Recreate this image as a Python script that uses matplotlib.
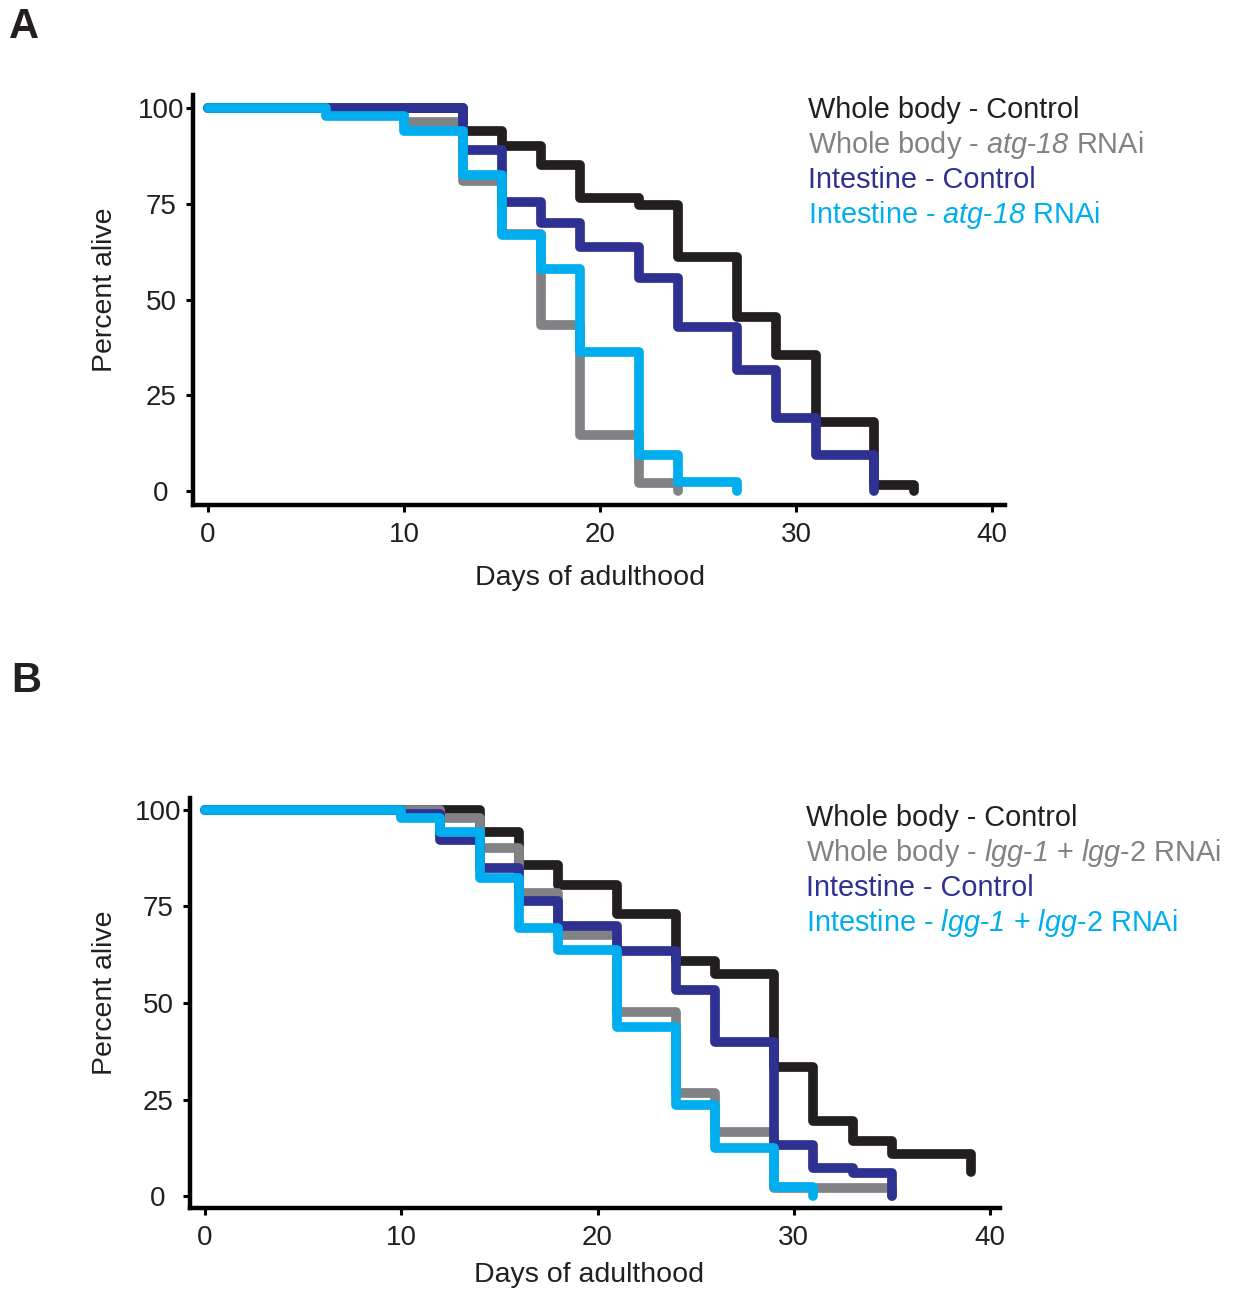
import matplotlib
matplotlib.use('Agg')
import matplotlib.pyplot as plt  # plotting

plt.rcParams['font.family'] = ['Liberation Sans', 'DejaVu Sans']
# math mode is only used for the italic gene names, so its "rm" font is the
# italic face (the "it" font would keep the digits upright)
plt.rcParams['mathtext.fontset'] = 'custom'
plt.rcParams['mathtext.rm'] = 'Liberation Sans:italic'
plt.rcParams['mathtext.it'] = 'Liberation Sans:italic'
plt.rcParams['mathtext.bf'] = 'Liberation Sans:bold'

########################################################
# Data
########################################################

# Panel A
a_wb_ctrl_days = [0, 13, 15, 17, 19, 22, 24, 27, 29, 31, 34, 36]
a_wb_ctrl_surv = [100, 94, 90, 85, 76.5, 74.7, 61, 45.4, 35.5, 18, 1.5, 0]
a_wb_rnai_days = [0, 10, 13, 15, 17, 19, 22, 24]
a_wb_rnai_surv = [100, 96.3, 81, 67, 43.3, 14.6, 2, 0]
a_int_ctrl_days = [0, 13, 15, 17, 19, 22, 24, 27, 29, 31, 34]
a_int_ctrl_surv = [100, 89, 75.5, 70, 63.8, 55.6, 42.8, 31.6, 19, 9.4, 0]
a_int_rnai_days = [0, 6, 10, 13, 15, 17, 19, 22, 24, 27]
a_int_rnai_surv = [100, 98, 94, 82.5, 66.8, 58, 36.3, 9.3, 2.4, 0]

# Panel B
b_wb_ctrl_days = [0, 14, 16, 18, 21, 24, 26, 29, 31, 33, 35, 39]
b_wb_ctrl_surv = [100, 94.3, 85.8, 80.6, 73, 60.9, 57.5, 33.4, 19.4, 14.3, 10.8, 6.3]
b_wb_rnai_days = [0, 12, 14, 16, 18, 21, 24, 26, 29, 35]
b_wb_rnai_surv = [100, 98, 90.2, 78.5, 67.7, 47.7, 26.7, 16.6, 2.1, 0]
b_int_ctrl_days = [0, 10, 12, 14, 16, 18, 21, 24, 26, 29, 31, 33, 35]
b_int_ctrl_surv = [100, 99, 92.2, 85, 76.4, 69.9, 63.4, 53.4, 40, 13.3, 7.3, 6, 0]
b_int_rnai_days = [0, 10, 12, 14, 16, 18, 21, 24, 26, 29, 31]
b_int_rnai_surv = [100, 97.9, 94.3, 82.4, 69.4, 63.7, 43.8, 23.6, 12.4, 2.4, 0]

x_ticks = [0, 10, 20, 30, 40]
y_ticks = [0, 25, 50, 75, 100]

labels_a = ['Whole body - Control',
            'Whole body - $\\mathrm{atg}$-$\\mathrm{18}$ RNAi',
            'Intestine - Control',
            'Intestine - $\\mathrm{atg}$-$\\mathrm{18}$ RNAi']
labels_b = ['Whole body - Control',
            'Whole body - $\\mathrm{lgg}$-$\\mathrm{1}$ + $\\mathrm{lgg}$-2 RNAi',
            'Intestine - Control',
            'Intestine - $\\mathrm{lgg}$-$\\mathrm{1}$ + $\\mathrm{lgg}$-2 RNAi']

colors = ['#231f20', '#808285', '#2e3192', '#00aeef']
TXT = '#231f20'

W, H = 1239, 1289
fig = plt.figure(figsize=(W / 100, H / 100), dpi=100)


def px(x, y):
    # pixel position -> figure fraction
    return x / W, 1 - y / H


def panel(rect, series, labels, leg_x, leg_y0, xlim, ylim):
    ax = fig.add_axes(rect)
    for (d, s), c in zip(series, colors):
        ax.step(d, s, where='post', color=c, lw=7, solid_joinstyle='round',
                solid_capstyle='round', clip_on=False)
    ax.set_xlim(*xlim)
    ax.set_ylim(*ylim)
    for side in ['top', 'right']:
        ax.spines[side].set_visible(False)
    for side in ['left', 'bottom']:
        ax.spines[side].set_linewidth(3.2)
        ax.spines[side].set_color('black')
    ax.set_xticks(x_ticks)
    ax.set_yticks(y_ticks)
    ax.tick_params(length=5, width=2.2, labelsize=20, colors='black',
                   labelcolor=TXT)
    ax.tick_params(axis='x', pad=7)
    ax.tick_params(axis='y', pad=18)
    for lab in ax.get_yticklabels():
        lab.set_ha('center')
    # coloured legend text
    for i, (lab, c) in enumerate(zip(labels, colors)):
        fig.text(*px(leg_x, leg_y0 + 35 * i), lab, color=c, fontsize=20.8,
                 ha='left', va='baseline')
    return ax


########################################################
# Panel A
########################################################
series_a = [(a_wb_ctrl_days, a_wb_ctrl_surv), (a_wb_rnai_days, a_wb_rnai_surv),
            (a_int_ctrl_days, a_int_ctrl_surv), (a_int_rnai_days, a_int_rnai_surv)]
panel([193 / W, 1 - 505 / H, (1005 - 193) / W, (505 - 95) / H],
      series_a, labels_a, 808, 118, (-0.77, 40.66), (-3.66, 103.4))
fig.text(*px(590, 578), 'Days of adulthood', fontsize=20.5, color=TXT,
         ha='center', va='center')
fig.text(*px(105, 290), 'Percent alive', fontsize=20.5, color=TXT,
         ha='center', va='center', rotation=90)
fig.text(*px(9, 38), 'A', fontsize=30, fontweight='bold', color=TXT,
         ha='left', va='baseline')

########################################################
# Panel B
########################################################
series_b = [(b_wb_ctrl_days, b_wb_ctrl_surv), (b_wb_rnai_days, b_wb_rnai_surv),
            (b_int_ctrl_days, b_int_ctrl_surv), (b_int_rnai_days, b_int_rnai_surv)]
panel([190 / W, 1 - 1208 / H, (1000 - 190) / W, (1208 - 798) / H],
      series_b, labels_b, 806, 826, (-0.76, 40.5), (-3.1, 103.1))
fig.text(*px(589, 1275), 'Days of adulthood', fontsize=20.5, color=TXT,
         ha='center', va='center')
fig.text(*px(105, 993), 'Percent alive', fontsize=20.5, color=TXT,
         ha='center', va='center', rotation=90)
fig.text(*px(11, 692), 'B', fontsize=30, fontweight='bold', color=TXT,
         ha='left', va='baseline')

fig.savefig('out.png', dpi=100)
